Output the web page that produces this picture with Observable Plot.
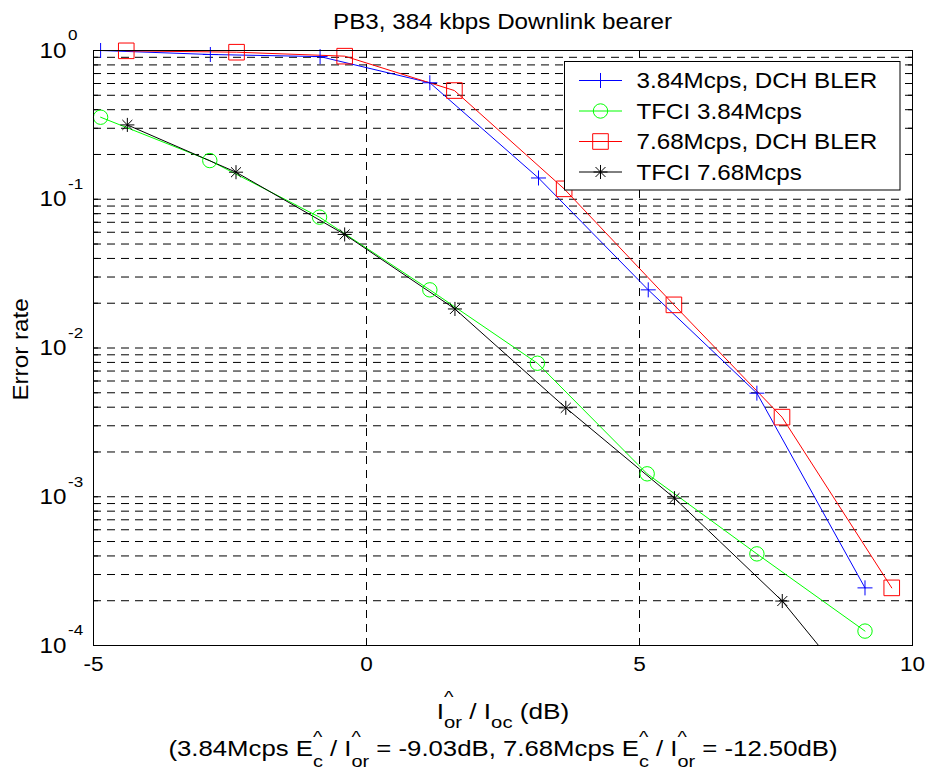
<!DOCTYPE html>
<html><head><meta charset="utf-8">
<script src="https://cdn.jsdelivr.net/npm/d3@7"></script>
<script src="https://cdn.jsdelivr.net/npm/@observablehq/plot@0.6"></script>
<style>body{margin:0;background:#fff} svg{display:block} svg text{white-space:pre}</style>
</head><body><div id="chart"></div>
<script>
const FONT = '"Liberation Sans", Arial, Helvetica, sans-serif';

// ---- data ----
const seriesNames = ["3.84Mcps, DCH BLER", "TFCI 3.84Mcps", "7.68Mcps, DCH BLER", "TFCI 7.68Mcps"];
const seriesColors = ["#0000ff", "#00ff00", "#ff0000", "#000000"];

const xBlue = [-4.87, -2.86, -0.85, 1.16, 3.15, 5.16, 7.15, 9.13];
const yBlue = [1.0, 0.94, 0.91, 0.607, 0.139, 0.0246, 0.00497, 0.000244];

const xGreen = [-4.87, -2.87, -0.86, 1.16, 3.13, 5.14, 7.15, 9.13];
const yGreen = [0.356, 0.182, 0.0758, 0.0246, 0.0079, 0.001426, 0.000413, 0.000125];

const xRed = [-4.40, -2.38, -0.40, 1.61, 3.62, 5.63, 7.61, 9.62];
const yRed = [0.995, 0.974, 0.916, 0.538, 0.1175, 0.0195, 0.00343, 0.000244];

const xBlack = [-4.38, -2.39, -0.40, 1.62, 3.65, 5.64, 7.615, 9.62];
const yBlack = [0.316, 0.152, 0.058, 0.0183, 0.00396, 0.000978, 0.000199, 0.000025];

const xTicks = [-5, 0, 5, 10];
const xTickLabels = ["-5", "0", "5", "10"];
const xGridValues = [0, 5];
const yTickExps = [0, -1, -2, -3, -4];
const yTickBase = "10";
const yTickSup = ["0", "-1", "-2", "-3", "-4"];
const yGridMultipliers = [1, 2, 3, 4, 5, 6, 7, 8, 9];
const yGridDecades = [-4, -3, -2, -1];

const titleText = "PB3, 384 kbps Downlink bearer";
const yLabelText = "Error rate";

// ---- layout ----
const W = 927, H = 769, mL = 93, mR = 15, mT = 50, mB = 124;
const S = 1.1; // horizontal stretch of the reference's text

const yGrid = [];
for (const e of yGridDecades) for (const m of yGridMultipliers) {
  const v = m * Math.pow(10, e);
  if (v > 1.0001e-4 && v < 0.9999) yGrid.push(v);
}
const yTickAll = [1e-4, ...yGrid, 1];

const mk = (xs, ys, name) => xs.map((x, i) => ({series: name, x, y: ys[i]}));
const dBlue = mk(xBlue, yBlue, seriesNames[0]);
const dGreen = mk(xGreen, yGreen, seriesNames[1]);
const dRed = mk(xRed, yRed, seriesNames[2]);
const dBlack = mk(xBlack, yBlack, seriesNames[3]);

const R_PLUS = 4.9, R_CIRCLE = 7.2, R_SQUARE = 8.8, R_STAR_PLUS = 4.6, R_STAR_TIMES = 4.6;
const dash = "8,6";

const chart = Plot.plot({
  width: W, height: H,
  marginLeft: mL, marginRight: mR, marginTop: mT, marginBottom: mB,
  style: {fontFamily: FONT, background: "#fff", color: "#000", overflow: "visible"},
  x: {domain: [-5, 10]},
  y: {type: "log", domain: [1e-4, 1]},
  marks: [
    Plot.ruleY(yGrid, {y: d => d, stroke: "#000", strokeWidth: 1, strokeDasharray: dash}),
    Plot.ruleX(xGridValues, {x: d => d, stroke: "#000", strokeWidth: 1, strokeDasharray: dash}),
    Plot.axisY({anchor: "left", ticks: yTickAll, tickSize: -5, fill: "none", label: null}),
    Plot.axisY({anchor: "right", ticks: yTickAll, tickSize: -5, fill: "none", label: null}),
    Plot.axisX({anchor: "bottom", ticks: xTicks, tickSize: -5, fill: "none", label: null}),
    Plot.axisX({anchor: "top", ticks: xTicks, tickSize: -5, fill: "none", label: null}),
    Plot.text(xTicks, {x: d => d, frameAnchor: "bottom", dy: 25.3, text: (d, i) => xTickLabels[i], fontSize: 20.5, fill: "#000"}),
    Plot.text(yTickExps, {y: d => Math.pow(10, d), frameAnchor: "left", dx: -27, textAnchor: "end", text: () => yTickBase, fontSize: 22, fill: "#000"}),
    Plot.text(yTickExps, {y: d => Math.pow(10, d), frameAnchor: "left", dx: -25.5, dy: -15, textAnchor: "start", text: (d, i) => yTickSup[i], fontSize: 15.5, fill: "#000"}),
    Plot.line(dBlue, {x: "x", y: "y", stroke: seriesColors[0], strokeWidth: 1}),
    Plot.line(dGreen, {x: "x", y: "y", stroke: seriesColors[1], strokeWidth: 1}),
    Plot.line(dRed, {x: "x", y: "y", stroke: seriesColors[2], strokeWidth: 1}),
    Plot.line(dBlack, {x: "x", y: "y", stroke: seriesColors[3], strokeWidth: 1, clip: true}),
    Plot.dot(dBlue, {x: "x", y: "y", symbol: "plus", r: R_PLUS, stroke: seriesColors[0], strokeWidth: 1}),
    Plot.dot(dGreen, {x: "x", y: "y", symbol: "circle", r: R_CIRCLE, stroke: seriesColors[1], fill: "none", strokeWidth: 1}),
    Plot.dot(dRed, {x: "x", y: "y", symbol: "square", r: R_SQUARE, stroke: seriesColors[2], fill: "none", strokeWidth: 1}),
    Plot.dot(dBlack, {x: "x", y: "y", symbol: "plus", r: R_STAR_PLUS, stroke: seriesColors[3], strokeWidth: 1, clip: true}),
    Plot.dot(dBlack, {x: "x", y: "y", symbol: "times", r: R_STAR_TIMES, stroke: seriesColors[3], strokeWidth: 1, clip: true}),
    Plot.frame({stroke: "#000", strokeWidth: 1})
  ]
});
document.getElementById("chart").append(chart);

const svg = d3.select(chart);

svg.selectAll("text").each(function() {
  const n = this.getComputedTextLength();
  if (n > 0) { this.setAttribute("textLength", n * S); this.setAttribute("lengthAdjust", "spacingAndGlyphs"); }
});

// returns {t, w} where w is the stretched advance width
function addText(parent, x, y, str, fs, anchor, stretch) {
  const k = stretch || S;
  const t = parent.append("text").attr("x", x).attr("y", y).attr("font-family", FONT)
    .attr("font-size", fs).attr("fill", "#000").attr("text-anchor", anchor || "start").text(str);
  const n = t.node().getComputedTextLength();
  t.attr("textLength", n * k).attr("lengthAdjust", "spacingAndGlyphs");
  return {t, w: n * k};
}

addText(svg, (mL + W - mR) / 2, 29.3, titleText, 22, "middle");
addText(svg.append("g").attr("transform", "translate(28.3,349.5) rotate(-90)"), 0, 0, yLabelText, 22, "middle");

function rich(cx, baseline, segs, fs, sfs, subDy, supDy, stretch) {
  const g = svg.append("g");
  const items = segs.map(s => {
    if (typeof s === "string") {
      const a = addText(g, 0, baseline, s, fs, "start", stretch);
      return {els: [a.t], w: a.w};
    }
    const els = []; let w = 0;
    if (s.sub) { const a = addText(g, 0, baseline + subDy, s.sub, sfs, "start", stretch); els.push(a.t); w = Math.max(w, a.w); }
    if (s.sup) { const a = addText(g, 0, baseline - supDy, s.sup, sfs, "start", stretch); els.push(a.t); w = Math.max(w, a.w); }
    return {els, w};
  });
  const total = d3.sum(items, d => d.w);
  let x = cx - total / 2;
  for (const it of items) { for (const e of it.els) e.attr("x", x); x += it.w; }
}
const xLabel1 = ["I", {sup: "^", sub: "or"}, " / I", {sub: "oc"}, " (dB)"];
const xLabel2 = ["(3.84Mcps E", {sup: "^", sub: "c"}, " / I", {sup: "^", sub: "or"}, " = -9.03dB, 7.68Mcps E",
  {sup: "^", sub: "c"}, " / I", {sup: "^", sub: "or"}, " = -12.50dB)"];
rich(503, 719, xLabel1, 22, 17, 9, 16, 1.19);
rich(503, 755.5, xLabel2, 22, 17, 11, 13, 1.17);

// legend
const lg = svg.append("g");
lg.append("rect").attr("x", 564.5).attr("y", 61.5).attr("width", 335.5).attr("height", 128.5)
  .attr("fill", "#fff").attr("stroke", "#000").attr("stroke-width", 1);
const legendSymbols = [
  [[d3.symbolPlus, R_PLUS]],
  [[d3.symbolCircle, R_CIRCLE]],
  [[d3.symbolSquare, R_SQUARE]],
  [[d3.symbolPlus, R_STAR_PLUS], [d3.symbolTimes, R_STAR_TIMES]]
];
seriesNames.forEach((name, i) => {
  const cy = 80.5 + i * 30.5;
  lg.append("line").attr("x1", 579).attr("x2", 622).attr("y1", cy).attr("y2", cy)
    .attr("stroke", seriesColors[i]).attr("stroke-width", 1);
  for (const [type, r] of legendSymbols[i]) {
    lg.append("path").attr("transform", `translate(600.5,${cy})`)
      .attr("d", d3.symbol(type, Math.PI * r * r)())
      .attr("fill", "none").attr("stroke", seriesColors[i]).attr("stroke-width", 1);
  }
  addText(lg, 636.5, cy + 7.9, name, 22, "start");
});
</script>
</body></html>
